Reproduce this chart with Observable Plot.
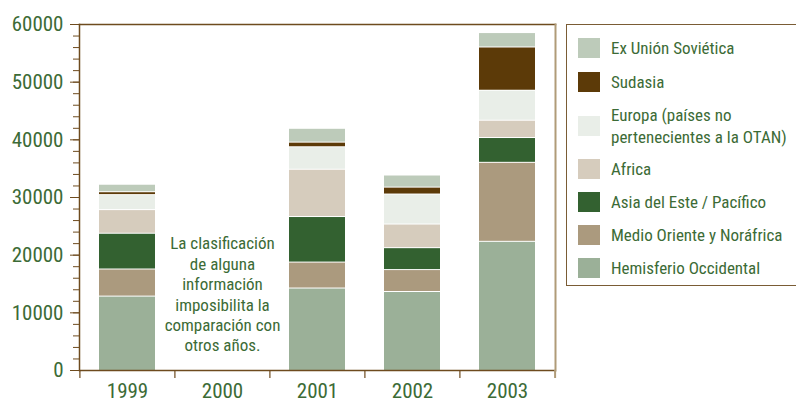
<!DOCTYPE html>
<html>
<head>
<meta charset="utf-8">
<script src="https://cdn.jsdelivr.net/npm/d3@7"></script>
<script src="https://cdn.jsdelivr.net/npm/@observablehq/plot@0.6"></script>
<style>
  html, body { margin: 0; padding: 0; background: #fff; }
  #wrap { position: relative; width: 796px; height: 398px; overflow: hidden; }
  .f { font-family: "Liberation Sans Narrow", "Roboto Condensed", "DejaVu Sans Condensed", sans-serif; font-stretch: condensed; }
  #legend { position: absolute; left: 566px; top: 24px; width: 240px; height: 262px; border: 1.5px solid #7a5c35; box-sizing: border-box; }
  .item { position: absolute; left: 11px; display: flex; align-items: center; }
  .sw { width: 22px; height: 20px; flex: none; }
  .lb { margin-left: 11px; font-size: 17px; line-height: 22px; color: #3c6b36; }
</style>
</head>
<body>
<div id="wrap" class="f"></div>
<script>
const years = ["1999", "2000", "2001", "2002", "2003"];
const series = ["Hemisferio Occidental", "Medio Oriente y Noráfrica", "Asia del Este / Pacífico", "Africa", "Europa (países no pertenecientes a la OTAN)", "Sudasia", "Ex Unión Soviética"];
const legendLabels = ["Ex Unión Soviética", "Sudasia", "Europa (países no<br>pertenecientes a la OTAN)", "Africa", "Asia del Este / Pacífico", "Medio Oriente y Noráfrica", "Hemisferio Occidental"];
const colors = ["#9bb098", "#ab9a7e", "#336130", "#d6ccbd", "#e9eee8", "#5c3a08", "#bdcbba"];
// values per series for 1999, 2001, 2002, 2003 (2000 not comparable)
const dataYears = ["1999", "2001", "2002", "2003"];
const hemisferio = [12900, 14300, 13700, 22400];
const medioOriente = [4700, 4500, 3800, 13700];
const asiaEste = [6200, 7900, 3800, 4300];
const africa = [4100, 8200, 4100, 3000];
const europa = [2600, 3900, 5200, 5200];
const sudasia = [500, 800, 1200, 7500];
const exURSS = [1300, 2400, 2100, 2500];
const yMajorTicks = [0, 10000, 20000, 30000, 40000, 50000, 60000];
const yMinorTicks = d3.range(0, 60001, 2000);
const note = "La clasificación\nde alguna\ninformación\nimposibilita la\ncomparación con\notros años.";

const values = [hemisferio, medioOriente, asiaEste, africa, europa, sudasia, exURSS];
const rows = [];
series.forEach((s, i) => dataYears.forEach((y, j) => rows.push({year: y, serie: s, value: values[i][j]})));

const W = 796, H = 398, mL = 79, mR = 241, mT = 24, mB = 28;
const step = (W - mL - mR) / years.length;
const green = "#3c6b36", brown = "#6e4b1e", tan = "#b09b78";

const plot = Plot.plot({
  width: W, height: H,
  marginLeft: mL, marginRight: mR, marginTop: mT, marginBottom: mB,
  style: {fontFamily: '"Liberation Sans Narrow", "Roboto Condensed", "DejaVu Sans Condensed", sans-serif', fontSize: "21px", color: green, background: "transparent"},
  x: {domain: years, paddingInner: 0.41, paddingOuter: 0.205, axis: null, label: null},
  y: {domain: [0, 60000], axis: null, label: null},
  color: {domain: series, range: colors},
  marks: [
    Plot.barY(rows, {x: "year", y: "value", fill: "serie", order: series, insetTop: 1}),
    Plot.text([note], {x: () => "2000", y: () => 13300, text: d => d, fontSize: 17, lineHeight: 1.2, fill: green, lineAnchor: "middle"}),
    Plot.ruleY([0], {stroke: brown, strokeWidth: 1.5}),
    Plot.frame({anchor: "top", stroke: brown, strokeWidth: 1.5}),
    Plot.frame({anchor: "left", stroke: brown, strokeWidth: 1.5}),
    Plot.frame({anchor: "right", stroke: tan, strokeWidth: 2}),
    Plot.axisY({ticks: yMinorTicks, tickSize: 6, text: null, stroke: brown, label: null}),
    Plot.axisY({ticks: yMajorTicks, tickSize: 9, tickPadding: 7, tickFormat: d => String(d), fill: green, stroke: brown, fontSize: 21, label: null}),
    Plot.axisX({ticks: years, tickSize: 8, text: null, dx: -step / 2, stroke: brown, strokeWidth: 1.2, label: null}),
    Plot.axisX({ticks: [years[years.length - 1]], tickSize: 8, text: null, dx: step / 2, stroke: tan, strokeWidth: 2, label: null}),
    Plot.axisX({ticks: years, tickSize: 0, tickPadding: 13, fill: green, fontSize: 21, label: null})
  ]
});

const wrap = document.getElementById("wrap");
wrap.appendChild(plot);

const legend = document.createElement("div");
legend.id = "legend";
const tops = [12, 46, 79, 133, 166, 199, 232];
const hts = [22, 22, 44, 22, 22, 22, 22];
legendLabels.forEach((lab, i) => {
  const it = document.createElement("div");
  it.className = "item";
  it.style.top = tops[i] + "px";
  it.style.height = hts[i] + "px";
  const sw = document.createElement("div");
  sw.className = "sw";
  sw.style.background = colors[series.length - 1 - i];
  const lb = document.createElement("div");
  lb.className = "lb";
  lb.innerHTML = lab;
  it.appendChild(sw); it.appendChild(lb);
  legend.appendChild(it);
});
wrap.appendChild(legend);
</script>
</body>
</html>
